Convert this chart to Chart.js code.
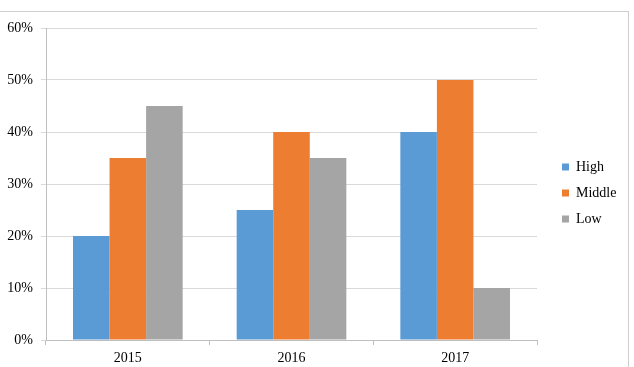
<!DOCTYPE html>
<html>
<head>
<meta charset="utf-8">
<script src="https://cdn.jsdelivr.net/npm/chart.js@4/dist/chart.umd.min.js"></script>
<style>
html,body{margin:0;padding:0;background:#fff;}
#wrap{position:relative;width:634px;height:367px;overflow:hidden;}
#frame{position:absolute;left:-2px;top:11px;width:631px;height:400px;border-top:1px solid #cfcfcf;border-right:1px solid #cfcfcf;box-sizing:border-box;}
canvas{position:absolute;left:0;top:0;}
</style>
</head>
<body>
<div id="wrap">
<div id="frame"></div>
<canvas id="c" width="634" height="367"></canvas>
</div>
<script>
const categories = ['2015', '2016', '2017'];
const seriesNames = ['High', 'Middle', 'Low'];
const high = [20, 25, 40];
const middle = [35, 40, 50];
const low = [45, 35, 10];
const yMax = 60;
const yStep = 10;

const colors = ['#5B9BD5', '#ED7D31', '#A5A5A5'];
const font = {family: "'Liberation Serif', 'Times New Roman', serif", size: 14};

const legendPatch = {
  id: 'legendPatch',
  afterInit(chart) {
    const l = chart.legend;
    const f = l.fit.bind(l);
    l.fit = function() { f(); this.width = 97; };
  },
  afterLayout(chart) {
    const l = chart.legend;
    l.left += 13; l.right += 13;
    l.top += 9; l.bottom += 9;
  }
};

new Chart(document.getElementById('c'), {
  type: 'bar',
  data: {
    labels: categories,
    datasets: [high, middle, low].map((d, i) => ({
      label: seriesNames[i],
      data: d,
      backgroundColor: colors[i],
      borderWidth: 0,
      categoryPercentage: 0.67,
      barPercentage: 1.0
    }))
  },
  options: {
    responsive: false,
    animation: false,
    devicePixelRatio: 1,
    layout: {padding: {top: 28, right: 0, bottom: 0, left: 0}},
    plugins: {
      tooltip: {enabled: false},
      legend: {
        position: 'right',
        fullSize: false,
        labels: {
          boxWidth: 7, boxHeight: 7, padding: 12,
          color: '#000', font: font
        }
      }
    },
    scales: {
      x: {
        grid: {display: true, drawOnChartArea: false, drawTicks: true, tickLength: 5, offset: true, color: '#bfbfbf'},
        border: {color: '#bfbfbf'},
        ticks: {color: '#000', font: font, padding: 5},
        afterFit(s) { s.height = 27; }
      },
      y: {
        min: 0, max: yMax,
        grid: {color: '#d9d9d9', tickLength: 5, drawTicks: true},
        border: {color: '#bfbfbf'},
        ticks: {stepSize: yStep, color: '#000', font: font, padding: 8,
          callback: v => v + '%'},
        afterFit(s) { s.width = 46; }
      }
    }
  },
  plugins: [legendPatch]
});
</script>
</body>
</html>
